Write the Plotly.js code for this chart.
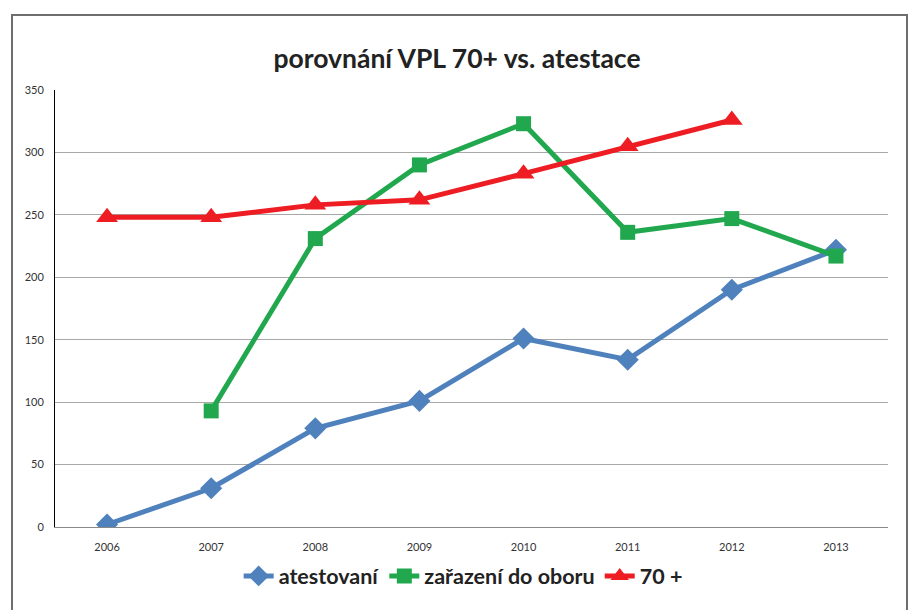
<!DOCTYPE html>
<html>
<head>
<meta charset="utf-8">
<script src="https://cdn.plot.ly/plotly-3.0.1.min.js"></script>
<style>html,body{margin:0;padding:0;background:#fff;}#chart{width:914px;height:610px;}</style>
</head>
<body>
<div id="chart"></div>
<script>
const years = ['2006','2007','2008','2009','2010','2011','2012','2013'];
const atestovani = [2, 31, 79, 101, 151, 134, 190, 222];
const zarazeni = [null, 93, 231, 290, 323, 236, 247, 217];
const sedmdesatPlus = [248, 248, 258, 262, 283, 305, 326, null];
const yTicks = [0, 50, 100, 150, 200, 250, 300, 350];

const traces = [
  {x: years, y: atestovani, name: 'atestovaní', type: 'scatter', mode: 'lines+markers',
   line: {color: '#4F81BD', width: 5}, marker: {symbol: 'diamond', size: 17, color: '#4F81BD'}},
  {x: years, y: zarazeni, name: 'zařazení do oboru', type: 'scatter', mode: 'lines+markers',
   line: {color: '#21A84F', width: 5}, marker: {symbol: 'square', size: 15, color: '#21A84F'}},
  {x: years, y: sedmdesatPlus, name: '70 +', type: 'scatter', mode: 'lines+markers',
   line: {color: '#EE1D24', width: 5}, marker: {symbol: 'triangle-up', size: 19, color: '#EE1D24'}}
];

const layout = {
  width: 914, height: 610,
  margin: {l: 55, r: 26, t: 90, b: 83},
  paper_bgcolor: '#fff', plot_bgcolor: '#fff',
  font: {family: 'Lato, "Open Sans", sans-serif', color: '#222'},
  title: {text: '<b>porovnání VPL 70+ vs. atestace</b>', font: {size: 26.5, color: '#222', family: 'Lato, sans-serif'},
          x: 0.5, xanchor: 'center', y: 1 - 59/610, yref: 'container', yanchor: 'middle'},
  showlegend: true,
  legend: {orientation: 'h', x: 0.49, xanchor: 'center', y: -0.112, yanchor: 'middle',
           font: {size: 21.5, color: '#222', family: 'Lato, sans-serif', weight: 'bold'}, itemwidth: 30, tracegroupgap: 0},
  xaxis: {type: 'category', categoryorder: 'array', categoryarray: years, range: [-0.5, 7.5],
          showline: true, linecolor: '#888', linewidth: 1, showgrid: false, zeroline: false,
          ticks: '', tickfont: {size: 11, color: '#333'}, ticklabelstandoff: 10, fixedrange: true},
  yaxis: {range: [0, 350], tickvals: yTicks, ticktext: yTicks.map(String),
          showline: true, linecolor: '#000', linewidth: 1, showgrid: true, gridcolor: '#A8A8A8', gridwidth: 1,
          zeroline: false, ticks: '', tickfont: {size: 11, color: '#333'}, ticklabelstandoff: 8, fixedrange: true},
  shapes: [{type: 'rect', xref: 'paper', yref: 'paper',
            x0: (12-55)/833, x1: (907-55)/833, y0: (527-640)/437, y1: (527-15)/437,
            line: {color: '#6E6E6E', width: 2}, fillcolor: 'rgba(0,0,0,0)', layer: 'below'}],
  hovermode: false
};

Plotly.newPlot('chart', traces, layout, {displayModeBar: false, staticPlot: true});
</script>
</body>
</html>
